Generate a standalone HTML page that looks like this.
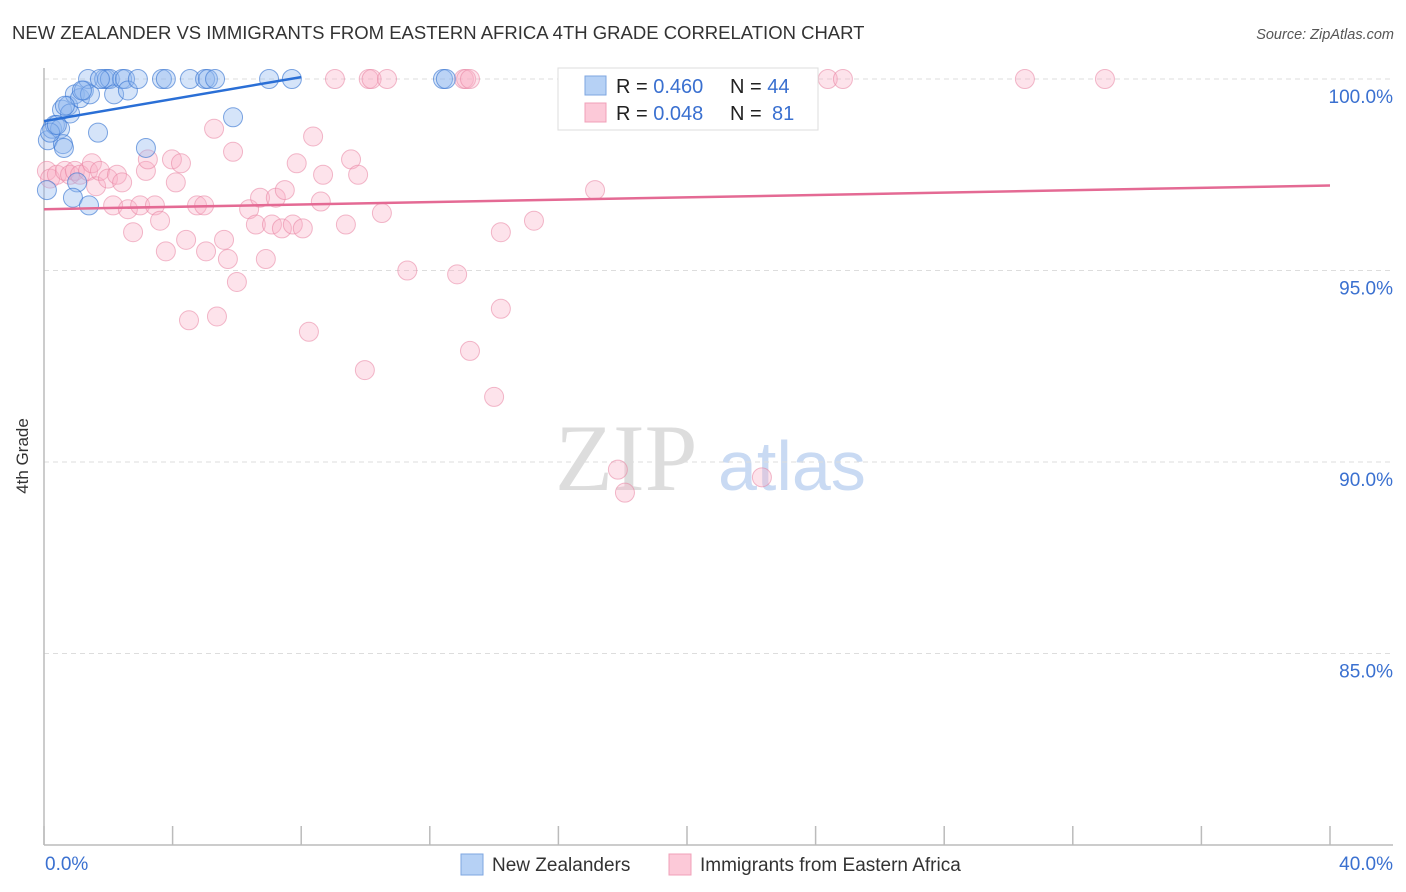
<!DOCTYPE html>
<html><head><meta charset="utf-8"><style>
body{margin:0;background:#fff;font-family:"Liberation Sans",sans-serif;}
svg{display:block}
</style></head><body>
<svg width="1406" height="892" xmlns="http://www.w3.org/2000/svg">
<text x="12" y="39" font-size="18.5" fill="#333">NEW ZEALANDER VS IMMIGRANTS FROM EASTERN AFRICA 4TH GRADE CORRELATION CHART</text>
<text x="1394" y="39" font-size="14.5" fill="#555" font-style="italic" text-anchor="end">Source: ZipAtlas.com</text>
<text x="28" y="456" font-size="17" fill="#333" text-anchor="middle" transform="rotate(-90 28 456)">4th Grade</text>
<text x="555" y="490" font-size="95" fill="#ddd" font-family="Liberation Serif,serif">ZIP</text>
<text x="718" y="490" font-size="70" fill="#c9daf3">atlas</text>
<g id="grid"></g>
<g id="axes"></g>
<g id="pts"></g>
<g id="trend"></g>
<g>
<rect x="558" y="68" width="260" height="62" fill="#fff" stroke="#ddd"/>
<rect x="585" y="76" width="21" height="19" fill="#b6d1f5" stroke="#7ea6e0"/>
<rect x="585" y="103" width="21" height="19" fill="#fcc9d8" stroke="#f0a0b8"/>
<text x="616" y="93" font-size="20" fill="#222">R = <tspan fill="#3a70d0">0.460</tspan><tspan x="730">N = </tspan><tspan fill="#3a70d0">44</tspan></text>
<text x="616" y="120" font-size="20" fill="#222">R = <tspan fill="#3a70d0">0.048</tspan><tspan x="730">N = </tspan><tspan fill="#3a70d0" x="772">81</tspan></text>
</g>
<g>
<rect x="461" y="854" width="22" height="21" fill="#b6d1f5" stroke="#7ea6e0"/>
<text x="492" y="871" font-size="19" fill="#333">New Zealanders</text>
<rect x="669" y="854" width="22" height="21" fill="#fcc9d8" stroke="#f0a0b8"/>
<text x="700" y="871" font-size="19" fill="#333">Immigrants from Eastern Africa</text>
</g>
<text x="45" y="870" font-size="19" fill="#3a70d0">0.0%</text>
<text x="1393" y="870" font-size="19" fill="#3a70d0" text-anchor="end">40.0%</text>
</svg>
<script>
const NS="http://www.w3.org/2000/svg";
const yTicks=[100,95,90,85];
const xTicks=[0,4,8,12,16,20,24,28,32,36,40];
const blueX=[0.09,0.12,0.25,0.34,0.5,0.59,0.56,0.75,0.81,0.96,1.12,1.24,1.37,1.43,1.87,1.96,2.05,2.18,2.43,2.52,2.61,2.92,3.67,3.79,4.54,5.01,5.1,5.32,7.0,7.71,12.41,12.5,1.68,3.17,5.88,1.03,0.9,1.4,0.19,0.4,0.62,1.18,1.74,0.65];
const blueY=[97.1,98.4,98.7,98.8,98.7,98.3,99.2,99.3,99.1,99.6,99.5,99.7,100,99.6,100,100,100,99.6,100,100,99.7,100,100,100,100,100,100,100,100,100,100,100,98.6,98.2,99.0,97.3,96.9,96.7,98.6,98.8,98.2,99.7,100,99.3];
const pinkX=[0.09,0.19,0.4,0.65,0.81,0.96,1.12,1.37,1.49,1.62,1.74,1.99,2.15,2.27,2.43,2.61,2.77,2.99,3.17,3.23,3.45,3.61,3.79,3.98,4.1,4.26,4.42,4.51,4.76,4.98,5.04,5.29,5.38,5.6,5.72,5.88,6.0,6.38,6.59,6.72,6.9,7.09,7.21,7.4,7.49,7.74,7.86,8.05,8.24,8.37,8.61,8.68,9.05,9.39,9.55,9.77,9.98,10.1,10.19,10.51,10.67,11.3,12.85,13.06,13.13,13.25,13.25,14.0,14.21,14.21,15.24,16.52,17.14,17.85,18.07,22.33,23.2,23.35,24.38,24.85,30.51,33.0];
const pinkY=[97.6,97.4,97.5,97.6,97.5,97.6,97.5,97.6,97.8,97.2,97.6,97.4,96.7,97.5,97.3,96.6,96.0,96.7,97.6,97.9,96.7,96.3,95.5,97.9,97.3,97.8,95.8,93.7,96.7,96.7,95.5,98.7,93.8,95.8,95.3,98.1,94.7,96.6,96.2,96.9,95.3,96.2,96.9,96.1,97.1,96.2,97.8,96.1,93.4,98.5,96.8,97.5,100,96.2,97.9,97.5,92.4,100,100,96.5,100,95.0,94.9,100,100,100,92.9,91.7,96.0,94.0,96.3,100,97.1,89.8,89.2,89.6,100,100,100,100,100,100];
const blueTrend=[0,98.9,8,100.05];
const pinkTrend=[0,96.6,40,97.22];
const X0=44,X1=1330,Y100=79,PX5=191.5;
const sx=v=>X0+(v/40)*(X1-X0);
const sy=v=>Y100+(100-v)*PX5/5;
function mk(tag,attrs,parent){const e=document.createElementNS(NS,tag);for(const k in attrs)e.setAttribute(k,attrs[k]);parent.appendChild(e);return e;}
const grid=document.getElementById('grid'),axes=document.getElementById('axes'),pts=document.getElementById('pts'),tr=document.getElementById('trend');
yTicks.forEach(t=>{
 const l=mk('line',{x1:X0,x2:1393,y1:sy(t),y2:sy(t),stroke:'#ddd','stroke-dasharray':'5,4'},grid);
 
 
 const tx=mk('text',{x:1393,y:sy(t)+24,'font-size':19,fill:'#3a70d0','text-anchor':'end'},grid);
 tx.textContent=t.toFixed(1)+'%';
 
 
});
let a=mk('line',{x1:X0,x2:X0,y1:68,y2:845,stroke:'#bbb','stroke-width':1.5},axes);

a=mk('line',{x1:X0,x2:1393,y1:845,y2:845,stroke:'#bbb','stroke-width':1.5},axes);

xTicks.forEach(t=>{
 const l=mk('line',{x1:sx(t),x2:sx(t),y1:826,y2:845,stroke:'#bbb','stroke-width':1.5},axes);
 
 
});
pinkX.forEach((v,i)=>{
 const c=mk('circle',{cx:sx(v),cy:sy(pinkY[i]),r:9.5,fill:'rgba(248,175,198,0.35)',stroke:'rgba(232,130,160,0.55)','stroke-width':1},pts);
 
 
});
blueX.forEach((v,i)=>{
 const c=mk('circle',{cx:sx(v),cy:sy(blueY[i]),r:9.5,fill:'rgba(145,185,238,0.38)',stroke:'rgba(60,120,210,0.65)','stroke-width':1},pts);
 
 
});
let t1=mk('line',{x1:sx(blueTrend[0]),y1:sy(blueTrend[1]),x2:sx(blueTrend[2]),y2:sy(blueTrend[3]),stroke:'#2a6fd6','stroke-width':2.5},tr);

let t2=mk('line',{x1:sx(pinkTrend[0]),y1:sy(pinkTrend[1]),x2:sx(pinkTrend[2]),y2:sy(pinkTrend[3]),stroke:'#e46a94','stroke-width':2.5},tr);

</script>
</body></html>
